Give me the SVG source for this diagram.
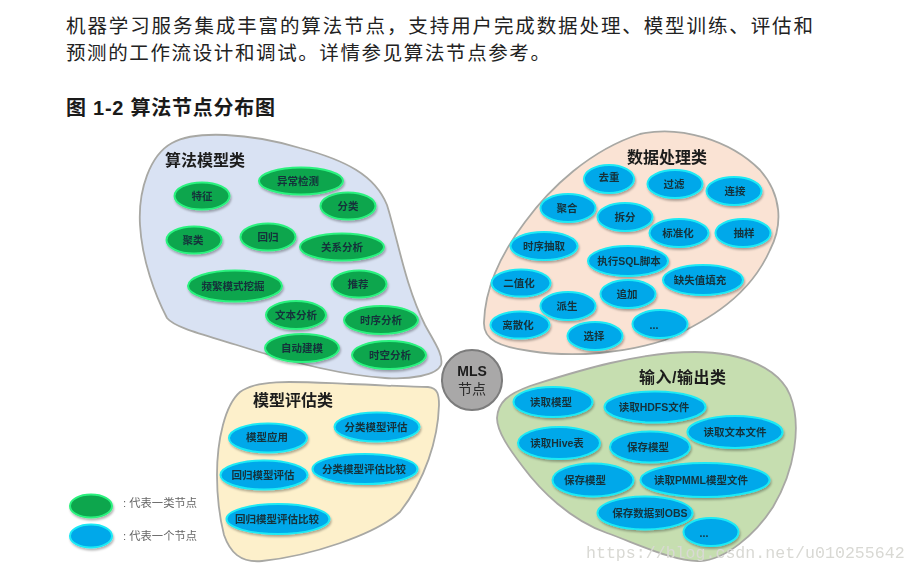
<svg xmlns="http://www.w3.org/2000/svg" width="917" height="573" viewBox="0 0 917 573">
<style>
text{font-family:"Liberation Sans","Noto Sans CJK SC",sans-serif}
.body{font-family:"Noto Sans CJK SC",sans-serif;font-size:19.5px;fill:#222}
.cap{font-family:"Liberation Sans","Noto Sans CJK SC",sans-serif;font-size:20px;font-weight:700;fill:#1a1a1a}
.blob{stroke:#a8a8a4;stroke-width:1.8}
.title{font-size:16px;font-weight:700;fill:#1c1c1c}
.g ellipse{fill:#0aa64e;stroke:#2cf27e;stroke-width:2;filter:url(#sh)}
.b ellipse{fill:#00a8ea;stroke:#1beaf5;stroke-width:2;filter:url(#sh)}
.g text,.b text{font-size:10.5px;font-weight:700;fill:#14303a;text-anchor:middle}
.leg{font-size:11.3px;fill:#666}
.wm{font-family:"Liberation Mono",monospace;font-size:16.6px;fill:#d9d9d4}
</style>
<defs>
<filter id="sh" x="-20%" y="-30%" width="140%" height="170%"><feDropShadow dx="1" dy="2" stdDeviation="1.2" flood-color="#000" flood-opacity=".3"/></filter>
<filter id="soft" x="-2%" y="-2%" width="104%" height="104%"><feGaussianBlur stdDeviation="0.35"/></filter>
</defs>
<text class="body" x="66" y="33" textLength="747" lengthAdjust="spacing">机器学习服务集成丰富的算法节点&#xFF0C;支持用户完成数据处理、模型训练、评估和</text>
<text class="body" x="66" y="60" textLength="484" lengthAdjust="spacing">预测的工作流设计和调试。详情参见算法节点参考。</text>
<text class="cap" x="66" y="115" textLength="209" lengthAdjust="spacing">图 1-2 算法节点分布图</text>
<g filter="url(#soft)">
<g id="region-algo">
<path class="blob" fill="#d9e2f3" d="M140 225C138 190 150 155 172 143C195 130 250 133 300 148C345 160 375 175 387 205C398 240 405 285 425 325C433 340 444 355 441 365C437 375 410 380 385 378C340 375 290 362 240 346C205 335 175 328 167 318C155 295 142 260 140 225Z"/>
<text class="title" x="165" y="166">算法模型类</text>
</g>
<g id="region-data">
<path class="blob" fill="#fae3d4" d="M484 322C485 290 500 255 525 222C550 188 590 150 640 134C680 125 730 140 760 170C782 195 783 225 770 250C750 295 710 320 665 340C625 353 575 358 530 351C500 347 483 340 484 322Z"/>
<text class="title" x="627" y="163">数据处理类</text>
</g>
<g id="region-io">
<path class="blob" fill="#c6deb0" d="M497 418C498 402 508 394 530 386C580 370 640 352 695 352C745 352 780 370 790 395C802 425 795 470 773 507C755 535 725 560 700 561C675 562 640 545 607 533C570 520 540 490 523 467C510 450 497 432 497 418Z"/>
<text class="title" x="639" y="383" textLength="87" lengthAdjust="spacing">输入/输出类</text>
</g>
<g id="region-eval">
<path class="blob" fill="#fdf0cb" d="M217 475C217 440 225 405 240 392C258 378 300 382 350 384C380 385 410 387 428 387C438 388 439 395 439 405C438 440 425 480 400 512C375 535 310 556 262 561C240 563 230 552 224 535C219 515 217 495 217 475Z"/>
<text class="title" x="253" y="406">模型评估类</text>
</g>
<g id="center-mls">
<circle cx="472" cy="380" r="30" fill="#a9a8a8" stroke="#7b7b7b" stroke-width="2"/>
<text x="472" y="376" text-anchor="middle" font-size="14" font-weight="700" fill="#1c1c1c">MLS</text>
<text x="472" y="394" text-anchor="middle" font-size="14" fill="#2a2a2a">节点</text>
</g>
<g id="n-a1" class="g"><ellipse cx="301" cy="181" rx="42" ry="13.5"/><text x="298" y="185">异常检测</text></g>
<g id="n-a2" class="g"><ellipse cx="202" cy="196" rx="27.500" ry="13.500"/><text x="202" y="200">特征</text></g>
<g id="n-a3" class="g"><ellipse cx="348" cy="206" rx="27.500" ry="13.500"/><text x="348" y="210">分类</text></g>
<g id="n-a4" class="g"><ellipse cx="194" cy="240" rx="27.500" ry="13.500"/><text x="193" y="244">聚类</text></g>
<g id="n-a5" class="g"><ellipse cx="268" cy="237" rx="27.500" ry="13.500"/><text x="268" y="241">回归</text></g>
<g id="n-a6" class="g"><ellipse cx="342" cy="247" rx="42" ry="13.500"/><text x="342" y="251">关系分析</text></g>
<g id="n-a7" class="g"><ellipse cx="235" cy="286" rx="47" ry="15.500"/><text x="233" y="290">频繁模式挖掘</text></g>
<g id="n-a8" class="g"><ellipse cx="359" cy="284" rx="27.500" ry="13.500"/><text x="358" y="288">推荐</text></g>
<g id="n-a9" class="g"><ellipse cx="296" cy="315" rx="30" ry="14"/><text x="296" y="319">文本分析</text></g>
<g id="n-a10" class="g"><ellipse cx="381" cy="320" rx="37" ry="14"/><text x="381" y="324">时序分析</text></g>
<g id="n-a11" class="g"><ellipse cx="302" cy="348" rx="37" ry="14"/><text x="302" y="352">自动建模</text></g>
<g id="n-a12" class="g"><ellipse cx="389" cy="355" rx="37" ry="14"/><text x="390" y="359">时空分析</text></g>
<g id="n-d1" class="b"><ellipse cx="609" cy="179" rx="25" ry="14"/><text x="609" y="181">去重</text></g>
<g id="n-d2" class="b"><ellipse cx="675" cy="184" rx="27.500" ry="14"/><text x="674" y="188">过滤</text></g>
<g id="n-d3" class="b"><ellipse cx="734" cy="191" rx="27.500" ry="14"/><text x="735" y="195">连接</text></g>
<g id="n-d4" class="b"><ellipse cx="568" cy="208" rx="27.500" ry="14"/><text x="567" y="212">聚合</text></g>
<g id="n-d5" class="b"><ellipse cx="625" cy="217" rx="27.500" ry="14"/><text x="625" y="221">拆分</text></g>
<g id="n-d6" class="b"><ellipse cx="679" cy="233" rx="29.500" ry="14"/><text x="678" y="237">标准化</text></g>
<g id="n-d7" class="b"><ellipse cx="743" cy="233" rx="27.500" ry="14"/><text x="744" y="237">抽样</text></g>
<g id="n-d8" class="b"><ellipse cx="544" cy="246" rx="33.500" ry="14"/><text x="544" y="250">时序抽取</text></g>
<g id="n-d9" class="b"><ellipse cx="628" cy="261" rx="40" ry="15"/><text x="629" y="265">执行SQL脚本</text></g>
<g id="n-d10" class="b"><ellipse cx="703" cy="280" rx="40" ry="15"/><text x="700" y="284">缺失值填充</text></g>
<g id="n-d11" class="b"><ellipse cx="521" cy="283" rx="29.500" ry="13.500"/><text x="519" y="287">二值化</text></g>
<g id="n-d12" class="b"><ellipse cx="628" cy="294" rx="27.500" ry="14"/><text x="627" y="298">追加</text></g>
<g id="n-d13" class="b"><ellipse cx="568" cy="306" rx="27.500" ry="14"/><text x="567" y="310">派生</text></g>
<g id="n-d14" class="b"><ellipse cx="520" cy="325" rx="29.500" ry="13.500"/><text x="518" y="329">离散化</text></g>
<g id="n-d15" class="b"><ellipse cx="595" cy="336" rx="27.500" ry="14"/><text x="594" y="340">选择</text></g>
<g id="n-d16" class="b"><ellipse cx="660" cy="324" rx="27.500" ry="14"/><text x="654" y="329">...</text></g>
<g id="n-i1" class="b"><ellipse cx="553" cy="402" rx="39.500" ry="15"/><text x="551" y="406">读取模型</text></g>
<g id="n-i2" class="b"><ellipse cx="655" cy="407" rx="50.500" ry="15.500"/><text x="654" y="411">读取HDFS文件</text></g>
<g id="n-i3" class="b"><ellipse cx="735" cy="432" rx="47.500" ry="16"/><text x="735" y="436">读取文本文件</text></g>
<g id="n-i4" class="b"><ellipse cx="559" cy="443" rx="41" ry="16"/><text x="557" y="447">读取Hive表</text></g>
<g id="n-i5" class="b"><ellipse cx="650" cy="447" rx="40" ry="15.500"/><text x="648" y="451">保存模型</text></g>
<g id="n-i6" class="b"><ellipse cx="593" cy="480" rx="40.500" ry="16.500"/><text x="585" y="484">保存模型</text></g>
<g id="n-i7" class="b"><ellipse cx="705" cy="480" rx="64.500" ry="17"/><text x="701" y="484">读取PMML模型文件</text></g>
<g id="n-i8" class="b"><ellipse cx="645" cy="513" rx="47.500" ry="16.500"/><text x="650" y="517">保存数据到OBS</text></g>
<g id="n-i9" class="b"><ellipse cx="711" cy="532" rx="27.500" ry="14"/><text x="704" y="537">...</text></g>
<g id="n-e1" class="b"><ellipse cx="268" cy="438" rx="39" ry="14.500"/><text x="267" y="441">模型应用</text></g>
<g id="n-e2" class="b"><ellipse cx="377" cy="427" rx="42.500" ry="14.500"/><text x="376" y="431">分类模型评估</text></g>
<g id="n-e3" class="b"><ellipse cx="264" cy="475" rx="43.500" ry="14.500"/><text x="263" y="479">回归模型评估</text></g>
<g id="n-e4" class="b"><ellipse cx="365" cy="469" rx="52.500" ry="15"/><text x="364" y="473">分类模型评估比较</text></g>
<g id="n-e5" class="b"><ellipse cx="278" cy="519" rx="51.500" ry="15"/><text x="277" y="523">回归模型评估比较</text></g>
<g id="legend-group" class="g"><ellipse cx="91" cy="506" rx="21" ry="11.500"/></g>
<text class="leg" x="123" y="507">: 代表一类节点</text>
<g id="legend-node" class="b"><ellipse cx="91" cy="536" rx="21" ry="11.500"/></g>
<text class="leg" x="123" y="540">: 代表一个节点</text>
</g>
<text class="wm" x="586" y="558">https://blog.csdn.net/u010255642</text>
</svg>
